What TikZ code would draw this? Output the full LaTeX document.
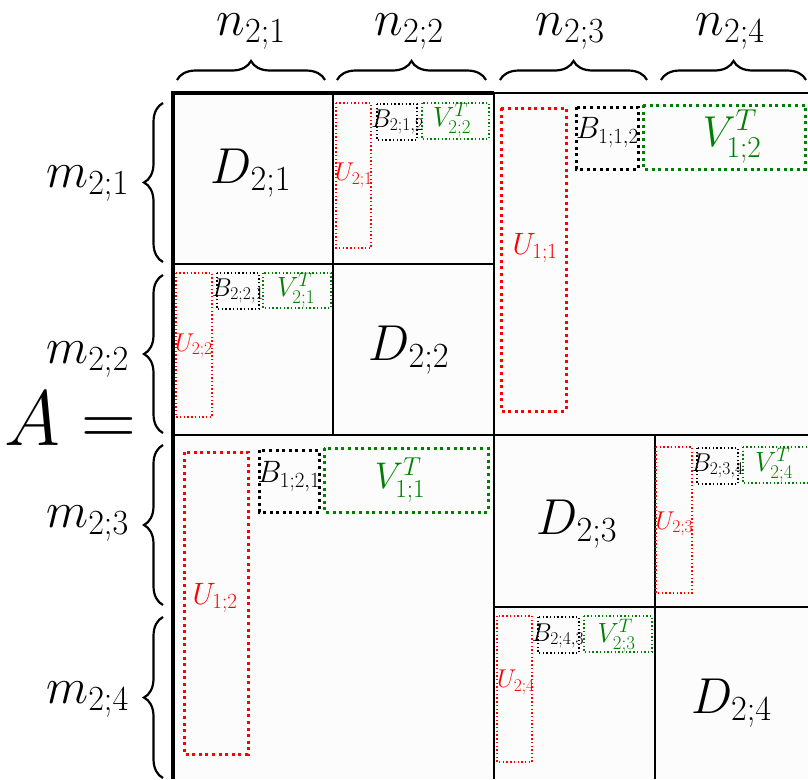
\RequirePackage{fix-cm}
\documentclass[tikz,border=0pt]{standalone}
\usetikzlibrary{decorations.pathreplacing}
\definecolor{dgreen}{RGB}{0,128,0}
\newcommand\sq[1]{\scalebox{1}[1.03]{#1}}
\begin{document}
\begin{tikzpicture}[x=1pt,y=-1pt,
  lvtwo/.style={line width=1.4pt, dash pattern=on 1.4pt off 2.3pt},
  lvone/.style={line width=3pt, dash pattern=on 3pt off 3.6pt},
  gridtwo/.style={line width=1.3pt},
  gridone/.style={line width=2pt},
  brc/.style={line width=2.2pt, decorate, decoration={brace, amplitude=19pt}},
  lab/.style={inner sep=0pt},
  ulabtwo/.style={lab, text=red, font=\fontsize{25}{30}\selectfont},
  blabtwo/.style={lab, font=\fontsize{25}{30}\selectfont},
  vlabtwo/.style={lab, text=dgreen, font=\fontsize{27}{32}\selectfont},
  ulabone/.style={lab, text=red, font=\fontsize{30}{36}\selectfont},
  blabone/.style={lab, font=\fontsize{30}{36}\selectfont},
  biglab/.style={lab, font=\fontsize{49}{56}\selectfont},
  hugelab/.style={lab, font=\fontsize{76}{85}\selectfont}]
\useasboundingbox (0,0) rectangle (808,779);
\fill[black!1] (173,93) rectangle (808,779);
% grid
\draw[gridtwo] (173,264) -- (494,264);
\draw[gridtwo] (333,93) -- (333,435);
\draw[gridtwo] (494,607) -- (808,607);
\draw[gridtwo] (655,435) -- (655,779);
\draw[gridone] (173,435) -- (808,435);
\draw[gridone] (494,93) -- (494,779);
\draw[line width=3.4pt] (494,93) -- (173,93) -- (173,779);
\draw[line width=2.4pt] (494,93) -- (808,93);
% top braces
\draw[brc] (177,80) -- (325,80);
\draw[brc] (337,80) -- (486,80);
\draw[brc] (500,80) -- (647,80);
\draw[brc] (661,80) -- (806,80);
\node[biglab, anchor=base] (n1) at (251,35) {\sq{$n_{2;1}$}};
\node[biglab, anchor=base] (n2) at (409,35) {\sq{$n_{2;2}$}};
\node[biglab, anchor=base] (n3) at (570,35) {\sq{$n_{2;3}$}};
\node[biglab, anchor=base] (n4) at (730,35) {\sq{$n_{2;4}$}};
% left braces
\draw[brc] (163,262) -- (163,103);
\draw[brc] (163,433) -- (163,275);
\draw[brc] (163,605) -- (163,445);
\draw[brc] (163,778) -- (163,617);
\node[biglab, anchor=base east] (m1) at (129,187) {\sq{$m_{2;1}$}};
\node[biglab, anchor=base east] (m2) at (129,363) {\sq{$m_{2;2}$}};
\node[biglab, anchor=base east] (m3) at (129,527) {\sq{$m_{2;3}$}};
\node[biglab, anchor=base east] (m4) at (129,703) {\sq{$m_{2;4}$}};
\node[hugelab, anchor=base east] (A) at (136,445) {\sq{$A=$}};
% diagonal blocks
\node[biglab] (D1) at (251,173) {\sq{$D_{2;1}$}};
\node[biglab] (D2) at (409,350) {\sq{$D_{2;2}$}};
\node[biglab] (D3) at (577,524) {\sq{$D_{2;3}$}};
\node[biglab] (D4) at (731.5,703) {\sq{$D_{2;4}$}};
% level-2 block (1,2)
\draw[lvtwo, red] (336,103) rectangle (371,248);
\draw[lvtwo, black] (377,104) rectangle (417,140);
\draw[lvtwo, dgreen] (422,103) rectangle (489,139);
\node[ulabtwo] (U21) at (354,175.5) {\sq{$U_{2;1}$}};
\node[blabtwo] (B212) at (397.5,122) {\sq{$B_{2;1,2}$}};
\node[vlabtwo] (V22) at (452,120) {\sq{$V^T_{2;2}$}};
% level-2 block (2,1)
\draw[lvtwo, red] (176,273) rectangle (212,417);
\draw[lvtwo, black] (217,273) rectangle (259,309);
\draw[lvtwo, dgreen] (263,273) rectangle (331,308);
\node[ulabtwo] (U22) at (194,346) {\sq{$U_{2;2}$}};
\node[blabtwo] (B221) at (238,291) {\sq{$B_{2;2,1}$}};
\node[vlabtwo] (V21) at (296,290.5) {\sq{$V^T_{2;1}$}};
% level-2 block (3,4)
\draw[lvtwo, red] (656,447) rectangle (692,593);
\draw[lvtwo, black] (697,448) rectangle (738,484);
\draw[lvtwo, dgreen] (743,447) rectangle (813,483);
\node[ulabtwo] (U23) at (674.5,524) {\sq{$U_{2;3}$}};
\node[blabtwo] (B234) at (717.5,466) {\sq{$B_{2;3,4}$}};
\node[vlabtwo] (V24) at (774,465) {\sq{$V^T_{2;4}$}};
% level-2 block (4,3)
\draw[lvtwo, red] (497,616) rectangle (532,762);
\draw[lvtwo, black] (538,617) rectangle (579,653);
\draw[lvtwo, dgreen] (584,616) rectangle (652,652);
\node[ulabtwo] (U24) at (516,682.5) {\sq{$U_{2;4}$}};
\node[blabtwo] (B243) at (558,636) {\sq{$B_{2;4,3}$}};
\node[vlabtwo] (V23) at (616.5,636) {\sq{$V^T_{2;3}$}};
% level-1 block (1,2)
\draw[lvone, red] (501,108) rectangle (566,411);
\draw[lvone, black] (576,107) rectangle (638,169);
\draw[lvone, dgreen] (643,105) rectangle (805,169);
\node[ulabone] (U11) at (535,248) {\sq{$U_{1;1}$}};
\node[blabone] (B112) at (607.5,132.5) {\sq{$B_{1;1,2}$}};
\node[lab, text=dgreen, font=\fontsize{42}{48}\selectfont] (V12) at (732,136.5) {\sq{$V^T_{1;2}$}};
% level-1 block (2,1)
\draw[lvone, red] (184,452) rectangle (248,754);
\draw[lvone, black] (259,450) rectangle (319,512);
\draw[lvone, dgreen] (324,448) rectangle (488,512);
\node[ulabone] (U12) at (215,598) {\sq{$U_{1;2}$}};
\node[blabone] (B121) at (289,476.5) {\sq{$B_{1;2,1}$}};
\node[lab, text=dgreen, font=\fontsize{36}{42}\selectfont] (V11) at (400,480) {\sq{$V^T_{1;1}$}};
\end{tikzpicture}
\end{document}
